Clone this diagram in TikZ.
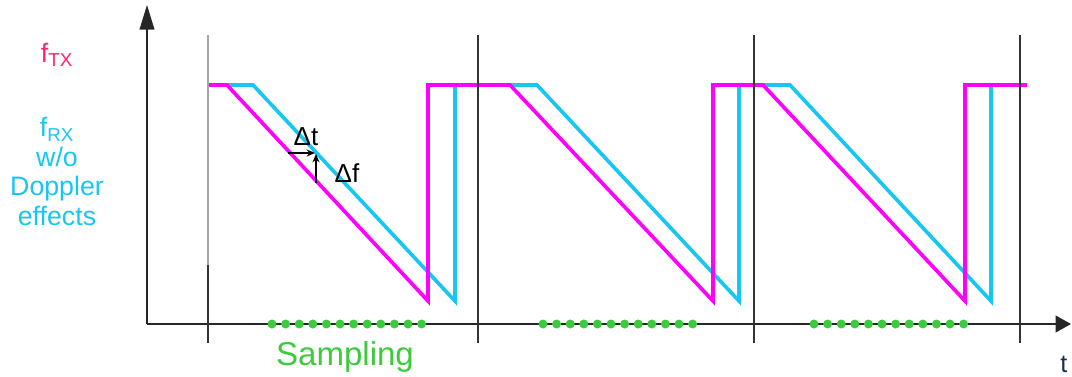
\documentclass[tikz,border=0pt]{standalone}
\usepackage{fontspec}
\setmainfont{Liberation Sans}
\usetikzlibrary{arrows.meta}
\definecolor{txpink}{HTML}{FF2468}
\definecolor{txmag}{HTML}{FF00FF}
\definecolor{rxcyan}{HTML}{19C6F2}
\definecolor{smpgreen}{HTML}{3CCB3C}
\definecolor{tnavy}{HTML}{1F2A55}
\begin{document}
\begin{tikzpicture}[
  x=0.025cm, y=-0.025cm,
  axis/.style={line width=1.1pt, black!85},
  frame/.style={line width=1.1pt, black!80},
  tx/.style={line width=2.6pt, txmag},
  rx/.style={line width=2.6pt, rxcyan},
  smp/.style={circle, fill=smpgreen, inner sep=0pt, minimum size=6.4pt},
  lbl/.style={font=\fontsize{19}{21}\selectfont, inner sep=0pt},
  delta/.style={-{Stealth[length=6pt,width=5pt]}, line width=1pt},
]
  \useasboundingbox (0,0) rectangle (1072,376);

  % Axes
  \coordinate (orig) at (147,324);
  \coordinate (ytop) at (147,5);
  \coordinate (xend) at (1071,324);
  \draw[axis, -{Triangle[length=17.5pt,width=10.5pt]}] (orig) -- (ytop);
  \draw[axis, -{Triangle[length=11pt,width=12pt]}] (orig) -- (xend);

  % Received chirps (w/o Doppler)
  \draw[rx] (208,85) -- (253,85) -- (455,301) -- (455,85)
    -- (537,85) -- (739,301) -- (739,85)
    -- (790,85) -- (991,301) -- (991,85) -- (1020,85);

  % Transmitted chirps
  \draw[tx] (208,85) -- (227,85) -- (428,301) -- (428,85)
    -- (510,85) -- (713,301) -- (713,85)
    -- (763,85) -- (965,301) -- (965,85) -- (1027,85);

  % Chirp boundaries
  \draw[line width=1.1pt, black!35] (208,35) -- (208,265);
  \draw[frame] (208,265) -- (208,343);
  \foreach \bx in {478,754,1020}
    \draw[frame] (\bx,35) -- (\bx,343);

  % Sampling points
  \foreach \sx in {272,543,814}
    \foreach \k in {0,...,11}
      \node[smp] at ({\sx+13.6*\k},324) {};

  % Delta t / Delta f
  \coordinate (dt0) at (288,153);
  \coordinate (dt1) at (315,153);
  \coordinate (df0) at (316,183);
  \coordinate (df1) at (316,154);
  \draw[delta] (dt0) -- (dt1);
  \draw[delta] (df0) -- (df1);
  \node[font=\fontsize{18.5}{20}\selectfont, inner sep=0pt, anchor=base] (dtlbl) at (306,145) {Δt};
  \node[font=\fontsize{18.5}{20}\selectfont, inner sep=0pt, anchor=base] (dflbl) at (347,182) {Δf};

  % Labels
  \node[lbl, txpink, anchor=base] (ftx) at (57,62) {f\textsubscript{TX}};
  \node[lbl, rxcyan, anchor=north, align=center] (frx) at (57,117)
    {f\textsubscript{RX}\\w/o\\Doppler\\effects};
  \node[font=\fontsize{23.5}{26}\selectfont, smpgreen, inner sep=0pt, anchor=base] (smplbl) at (345,365) {Sampling};
  \node[font=\fontsize{18}{20}\selectfont, tnavy, inner sep=0pt, anchor=base] (tlbl) at (1064,372) {t};
\end{tikzpicture}
\end{document}
